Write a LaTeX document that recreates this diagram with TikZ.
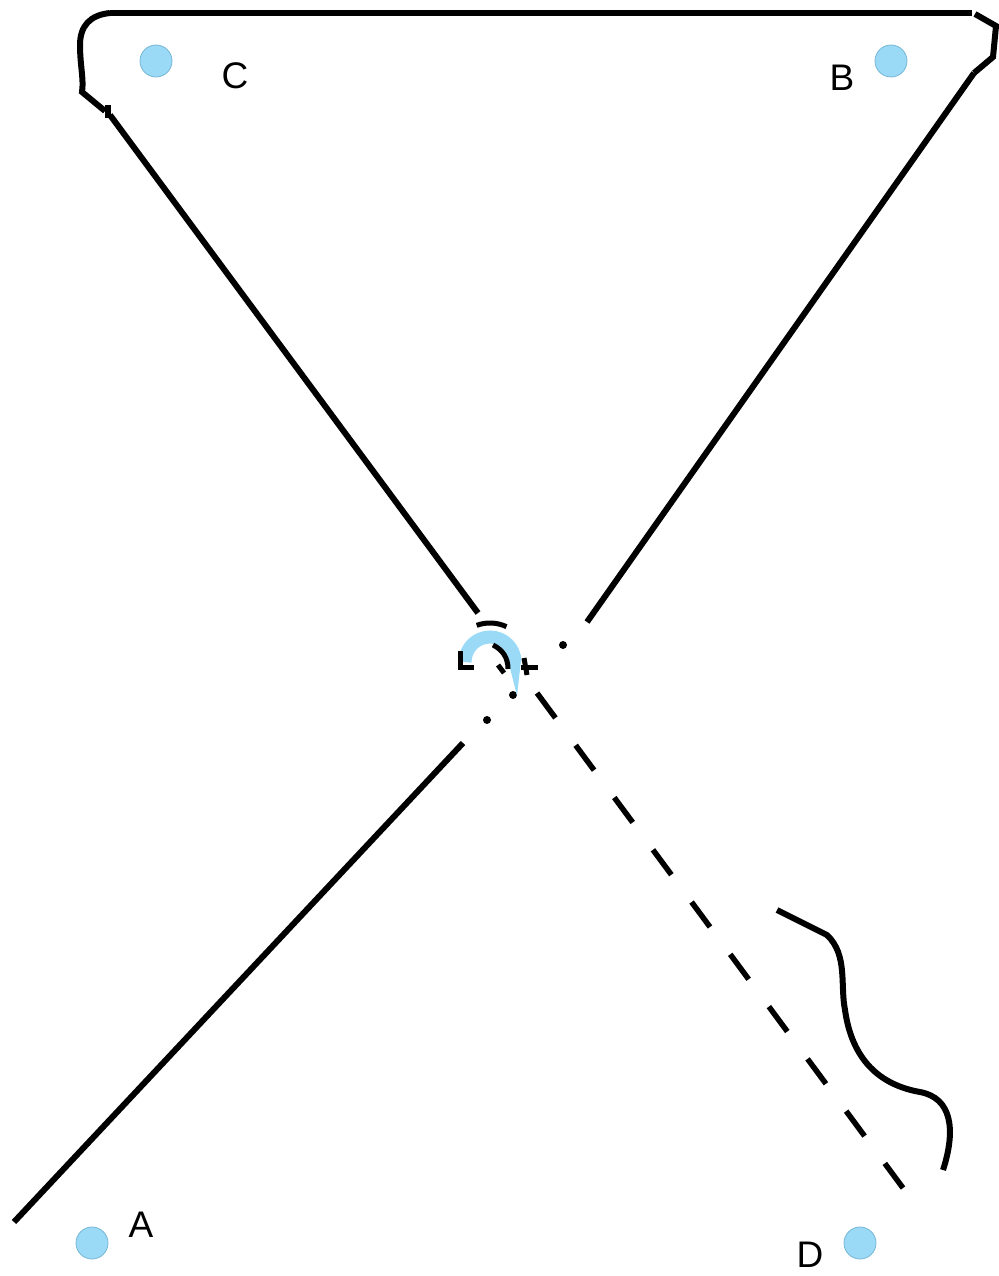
\documentclass[tikz,border=0pt]{standalone}
\usepackage{fontspec}
\setmainfont{Liberation Sans}
\definecolor{dotblue}{RGB}{155,218,246}
\definecolor{dotedge}{RGB}{118,182,214}
\tikzset{
  pt/.style={circle,fill=dotblue,draw=dotedge,line width=0.8pt,minimum size=32pt,inner sep=0pt},
  lbl/.style={font=\fontsize{37}{40}\selectfont,inner sep=0pt},
  ln/.style={line width=6pt},
  dln/.style={line width=5.5pt,dash pattern=on 31pt off 34pt},
  sdot/.style={circle,fill=black,minimum size=8pt,inner sep=0pt}
}

\begin{document}
\begin{tikzpicture}[x=1pt,y=-1pt]

\useasboundingbox (0,0) rectangle (998,1276);

% points and letters
\node[pt] (pC) at (156,61) {};
\node[pt] (pB) at (891,61) {};
\node[pt] (pA) at (92,1243) {};
\node[pt] (pD) at (860,1243) {};

\node[lbl] (lC) at (235,76) {C};
\node[lbl] (lB) at (842,78) {B};
\node[lbl] (lA) at (141,1225) {A};
\node[lbl] (lD) at (810,1255) {D};

% ends of the lines
\coordinate (tl) at (110,13);
\coordinate (tr) at (972,13);
\coordinate (c0) at (110,115);
\coordinate (c1) at (478,613);
\coordinate (b0) at (974,73);
\coordinate (b1) at (587,622);
\coordinate (a0) at (14,1222);
\coordinate (a1) at (463,743);
\coordinate (d0) at (537,693);
\coordinate (d1) at (903,1188);

% top and the two upper lines
\draw[ln] (tl) -- (tr);
\draw[ln] (tl) .. controls (90,15) and (80,26) .. (80,45) .. controls (80,65) and (84,80) .. (82,92) -- (105,111);
\draw[ln] (108,105) -- (108,118);
\draw[ln] (c0) -- (c1);
\draw[ln] (975,14) -- (996,26) -- (993,57) -- (b0);
\draw[ln] (b0) -- (b1);
\node[sdot] (bd) at (563,645) {};

% lower lines
\draw[ln] (a0) -- (a1);
\node[sdot] (ad1) at (487,720) {};
\node[sdot] (ad2) at (513,695) {};
\draw[dln] (d0) -- (d1);

% the angle
\draw[dotblue,line width=13pt] (465,662) arc[start angle=180,end angle=360,radius=25];
\fill[dotblue] (508,660) -- (521,660) -- (517,696) -- cycle;
\draw[line width=5pt] (490,662) ++(250:39) arc[start angle=250,end angle=295,radius=39];
\draw[line width=5pt] (460,651) -- (460,667) -- (474,667);
\draw[line width=5pt] (493,645) .. controls (503,650) and (508,658) .. (508,669);
\draw[line width=5pt] (498,665) -- (504,673);
\draw[line width=5pt] (524,658) -- (527,675);
\draw[line width=5pt] (521,667) -- (538,667);

% wave near D
\draw[ln] (777,910) -- (827,935) .. controls (848,955) and (840,985) .. (845,1010)
  .. controls (852,1060) and (880,1085) .. (920,1092)
  .. controls (952,1098) and (956,1130) .. (943,1170);

\end{tikzpicture}
\end{document}
